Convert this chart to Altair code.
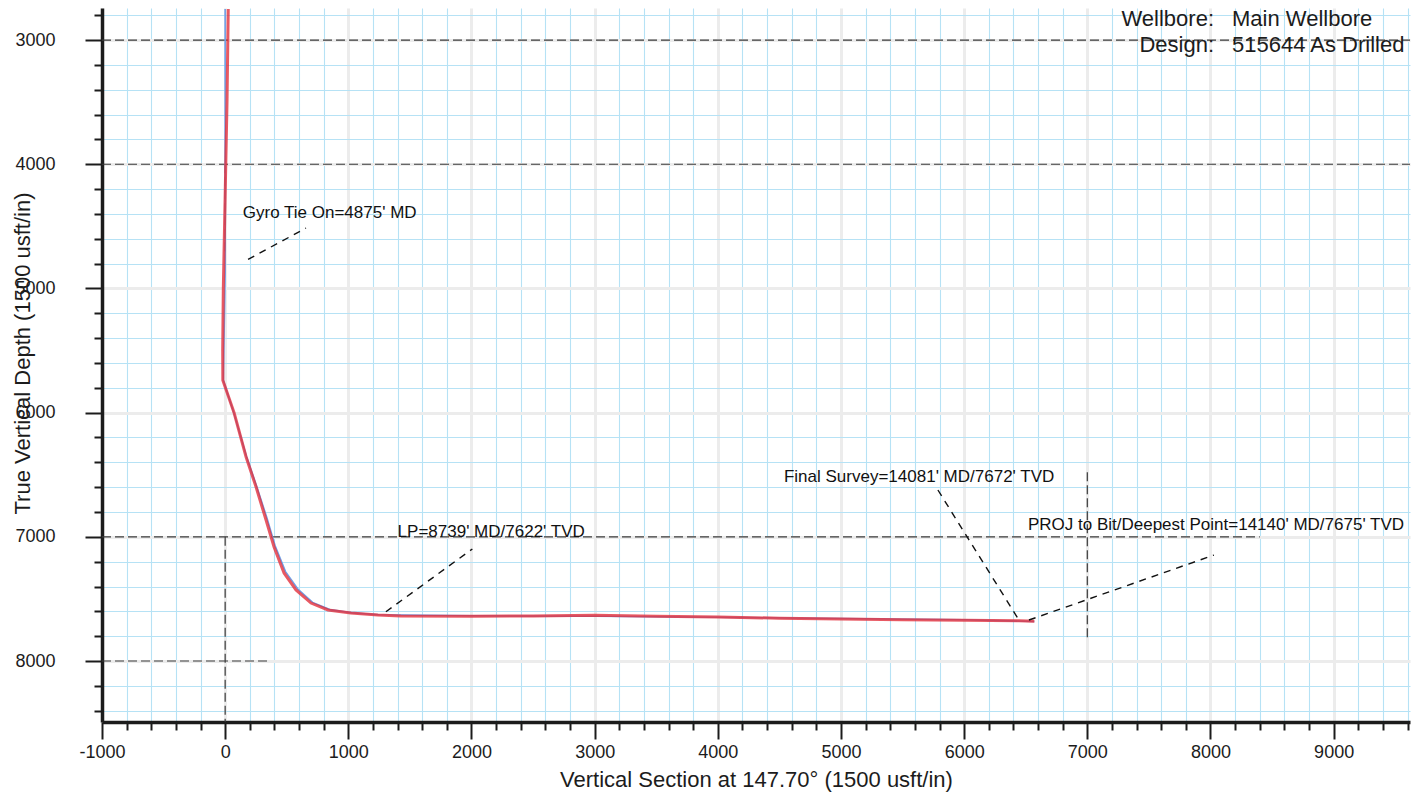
import altair as alt
import pandas as pd

# ---------------- data ----------------
# Actual (red) wellbore path: vertical section (usft) vs TVD (usft)
act_vs = [25, 15, 5, -5, -15, -20, -19, 73, 170, 251, 332, 397, 478, 575, 697, 835,
          1021, 1240, 1426, 2000, 2500, 3000, 3500, 4000, 4500, 5000, 5500, 6000, 6445, 6570]
act_tvd = [2750, 3500, 4000, 4500, 5000, 5500, 5740, 6003, 6357, 6599, 6865, 7082, 7291, 7428, 7533, 7589,
           7614, 7630, 7638, 7640, 7637, 7632, 7640, 7646, 7655, 7662, 7667, 7672, 7676, 7680]

# Plan (blue) wellbore path
plan_vs = [0, 0, -15, 70, 172, 255, 340, 405, 490, 590, 710, 850, 1030, 1250,
           2000, 3000, 4000, 5000, 6000, 6570]
plan_tvd = [2750, 4875, 5740, 6000, 6350, 6590, 6850, 7070, 7280, 7420, 7528, 7586, 7612, 7628,
            7636, 7640, 7648, 7658, 7668, 7682]

# Annotations
ann_text = ["Gyro Tie On=4875' MD", "LP=8739' MD/7622' TVD",
            "Final Survey=14081' MD/7672' TVD", "PROJ to Bit/Deepest Point=14140' MD/7675' TVD"]
ann_vs = [143, 1400, 4537, 6518]
ann_tvd = [4393, 6961, 6518, 6905]
lead_vs1 = [186, 1305, 5787, 6526]
lead_tvd1 = [4766, 7603, 6623, 7670]
lead_vs2 = [656, 2007, 6445, 8028]
lead_tvd2 = [4514, 7098, 7670, 7147]

# Dark dashed guide lines remaining on the sheet
hline_tvd = [3000, 4000, 7000, 8000]
hline_vs1 = [-1000, -1000, -1000, -1000]
hline_vs2 = [9620, 9620, 8400, 350]
vline_vs = [0, 0, 7000]
vline_tvd1 = [4000, 7000, 6480]
vline_tvd2 = [4700, 8491, 7830]

# Header
head_labels = ["Wellbore:", "Design:"]
head_values = ["Main Wellbore", "515644 As Drilled"]

x_ticks = list(range(-1000, 9601, 200))
y_ticks = list(range(2800, 8401, 200))

# ---------------- chart ----------------
FONT = "Liberation Sans"
INK = "#1c1c1c"

xscale = alt.Scale(domain=[-1000, 9620], nice=False, zero=False)
yscale = alt.Scale(domain=[2742, 8491], nice=False, zero=False, reverse=True)

is_major = "datum.value % 1000 === 0"
lab_expr = f"{is_major} ? '' + datum.value : ''"


def make_axis(**kw):
    return alt.Axis(
        values=kw.pop("values"),
        labelExpr=lab_expr,
        titleFont=FONT, titleFontWeight="normal", titleColor=INK,
        labelFont=FONT, labelFontSize=18, labelColor=INK, labelFlush=False,
        domainColor=INK, domainWidth=3.5,
        tickColor=INK, tickWidth=2,
        tickSize={"condition": {"test": is_major, "value": 17}, "value": 8},
        grid=True,
        gridColor={"condition": {"test": is_major, "value": "#ececec"}, "value": "#b6e2f5"},
        gridWidth={"condition": {"test": is_major, "value": 3}, "value": 1.1},
        **kw,
    )


xaxis = make_axis(values=x_ticks, title="Vertical Section at 147.70° (1500 usft/in)",
                  titleFontSize=22, titleY=57, titleBaseline="middle", labelPadding=4)
yaxis = make_axis(values=y_ticks, title="True Vertical Depth (1500 usft/in)",
                  titleFontSize=22, titleX=-80, titleY=345, titleAngle=-90, titleBaseline="middle",
                  labelPadding=30)


def X(f):
    return alt.X(f, type="quantitative", scale=xscale, axis=xaxis)


def Y(f):
    return alt.Y(f, type="quantitative", scale=yscale, axis=yaxis)


act = pd.DataFrame({"vs": act_vs, "tvd": act_tvd, "i": range(len(act_vs))})
plan = pd.DataFrame({"vs": plan_vs, "tvd": plan_tvd, "i": range(len(plan_vs))})
ann = pd.DataFrame({"vs": ann_vs, "tvd": ann_tvd, "text": ann_text})
lead = pd.DataFrame({"x1": lead_vs1, "y1": lead_tvd1, "x2": lead_vs2, "y2": lead_tvd2})
hl = pd.DataFrame({"x1": hline_vs1, "x2": hline_vs2, "y": hline_tvd})
vl = pd.DataFrame({"x": vline_vs, "y1": vline_tvd1, "y2": vline_tvd2})
head = pd.DataFrame({"lab": head_labels, "val": head_values, "row": [0, 1]})

hlines = alt.Chart(hl).mark_rule(color="#3a3a3a", strokeWidth=1.2, strokeDash=[9, 4]).encode(
    x=X("x1"), x2="x2", y=Y("y"))
vlines = alt.Chart(vl).mark_rule(color="#3a3a3a", strokeWidth=1.2, strokeDash=[9, 4]).encode(
    x=X("x"), y=Y("y1"), y2="y2")

plan_line = alt.Chart(plan).mark_line(color="#6f9fe6", strokeWidth=1.6).encode(
    x=X("vs"), y=Y("tvd"), order="i")
act_line = alt.Chart(act).mark_line(color="#e2303c", strokeWidth=3, opacity=0.8).encode(
    x=X("vs"), y=Y("tvd"), order="i")

leaders = alt.Chart(lead).mark_rule(color="#111111", strokeWidth=1.4, strokeDash=[7, 6]).encode(
    x=X("x1"), y=Y("y1"), x2="x2", y2="y2")
labels = alt.Chart(ann).mark_text(align="left", baseline="middle", font=FONT, fontSize=17,
                                  color="#111111").encode(
    x=X("vs"), y=Y("tvd"), text="text")


def header(row, field, align, xpos, ypos):
    return alt.Chart(head).transform_filter(f"datum.row === {row}").mark_text(
        align=align, baseline="middle", font=FONT, fontSize=22, color=INK
    ).encode(x=alt.value(xpos), y=alt.value(ypos), text=f"{field}:N")


head_layers = [
    header(0, "lab", "right", 1112, 11),
    header(0, "val", "left", 1130, 11),
    header(1, "lab", "right", 1112, 37),
    header(1, "val", "left", 1130, 37),
]

chart = alt.layer(hlines, vlines, plan_line, act_line, leaders, labels, *head_layers).properties(
    width=1308, height=714,
    padding={"left": 94, "top": 0, "right": 4, "bottom": 70},
    autosize=alt.AutoSizeParams(type="none"),
    background="white",
).configure_view(stroke=None)

chart.save("out.html", embed_options={"renderer": "svg", "actions": False})
